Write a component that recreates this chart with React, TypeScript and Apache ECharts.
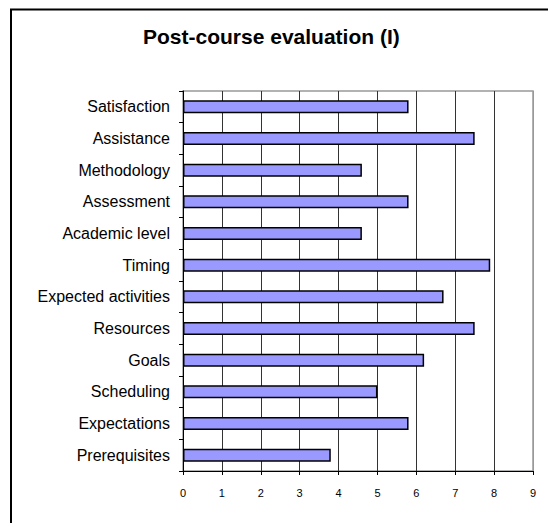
import React, { useEffect, useRef } from "react";
import * as echarts from "echarts";

const categories = [
  "Satisfaction",
  "Assistance",
  "Methodology",
  "Assessment",
  "Academic level",
  "Timing",
  "Expected activities",
  "Resources",
  "Goals",
  "Scheduling",
  "Expectations",
  "Prerequisites",
];
const values = [5.8, 7.5, 4.6, 5.8, 4.6, 7.9, 6.7, 7.5, 6.2, 5.0, 5.8, 3.8];
const titleText = "Post-course evaluation (I)";

export default function App() {
  const ref = useRef<HTMLDivElement>(null);
  useEffect(() => {
    if (!ref.current) return;
    const chart = echarts.init(ref.current, null, { renderer: "svg" });
    const splitColors = ["#333", "#333", "#333", "#333", "#333", "#333", "#333", "#333", "#333", "#999"];
    chart.setOption({
      animation: false,
      backgroundColor: "#fff",
      title: {
        text: titleText,
        left: 138,
        top: 21,
        textStyle: {
          fontFamily: "Liberation Sans, Arial, sans-serif",
          fontSize: 21,
          fontWeight: "bold",
          color: "#000",
        },
      },
      graphic: [
        {
          type: "rect",
          shape: { x: 11, y: 9.5, width: 700, height: 700 },
          style: { fill: "none", stroke: "#000", lineWidth: 2 },
          silent: true,
        },
      ],
      grid: {
        left: 183,
        top: 91,
        width: 350,
        height: 380,
        show: true,
        borderColor: "#999",
        borderWidth: 1.5,
        backgroundColor: "transparent",
      },
      xAxis: {
        type: "value",
        min: 0,
        max: 9,
        interval: 1,
        axisLine: { show: true, lineStyle: { color: "#000", width: 1 } },
        axisTick: { show: true, length: 4, lineStyle: { color: "#000" } },
        axisLabel: {
          fontFamily: "Liberation Sans, Arial, sans-serif",
          fontSize: 11,
          color: "#000",
          margin: 16,
        },
        splitLine: { show: true, lineStyle: { color: splitColors, width: 1 } },
      },
      yAxis: {
        type: "category",
        data: categories,
        inverse: true,
        axisLine: { show: true, lineStyle: { color: "#000", width: 1 } },
        axisTick: { show: true, length: 4, lineStyle: { color: "#000" } },
        axisLabel: {
          fontFamily: "Liberation Sans, Arial, sans-serif",
          fontSize: 16,
          color: "#000",
          margin: 13,
        },
        splitLine: { show: false },
      },
      series: [
        {
          type: "bar",
          data: values,
          barWidth: 13,
          itemStyle: {
            color: "#9999FF",
            borderColor: "#000",
            borderWidth: 1.5,
          },
        },
      ],
    });
    return () => chart.dispose();
  }, []);
  return (
    <div
      ref={ref}
      style={{ position: "fixed", left: 0, top: 0, width: 548, height: 523 }}
    />
  );
}
